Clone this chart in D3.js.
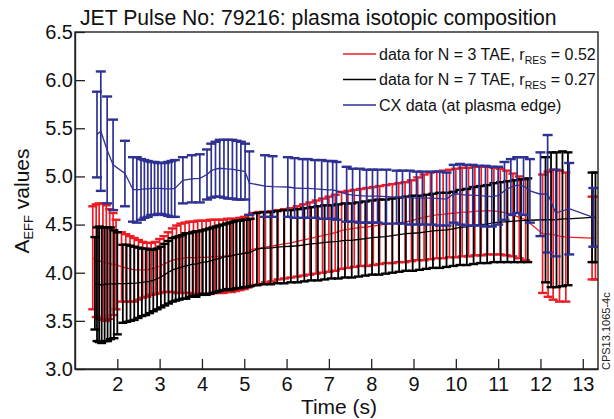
<!DOCTYPE html>
<html><head><meta charset="utf-8">
<script src="https://cdn.jsdelivr.net/npm/d3@7"></script>
<style>
html,body{margin:0;padding:0;background:#fff;}
svg{display:block;font-family:"Liberation Sans",Arial,Helvetica,sans-serif;}
</style></head><body>
<svg id="c" width="614" height="419"></svg>
<script>
// ---------------- data ----------------
const titleText = "JET Pulse No: 79216: plasma isotopic composition";
const xTicks = [2,3,4,5,6,7,8,9,10,11,12,13];
const yTicks = [3.0,3.5,4.0,4.5,5.0,5.5,6.0,6.5];

// N = 3 TAE (red): time, value, half error
const redT = [1.42,1.50,1.57,1.66,1.74,1.82,1.90,1.97,
  2.10,2.20,2.30,2.40,2.50,2.60,2.70,2.80,2.90,3.00,3.10,3.20,3.30,
  3.40,3.50,3.60,3.70,3.80,3.90,4.00,4.10,4.20,4.30,4.40,4.50,4.60,4.70,4.80,4.90,5.00,5.10,5.20,
  5.35,5.50,5.65,5.80,5.95,6.10,6.25,6.40,6.55,6.70,6.85,7.00,7.15,7.30,7.45,7.60,7.75,7.90,8.05,8.20,
  8.35,8.50,8.65,8.80,8.95,9.10,9.25,9.40,9.55,9.70,9.85,10.00,10.15,10.30,10.45,10.60,10.75,10.90,11.05,11.20,
  11.35,11.50,11.65,
  12.05,12.18,12.30,12.45,12.60,
  13.22,13.30];
const redV = [4.155,4.125,4.12,4.115,4.10,4.09,4.09,4.085,
  4.06,4.05,4.04,4.03,4.03,4.03,4.03,4.04,4.05,4.07,4.09,4.11,4.13,
  4.14,4.15,4.155,4.16,4.155,4.16,4.16,4.16,4.165,4.17,4.17,4.17,4.18,4.18,4.185,4.195,4.205,4.225,4.245,
  4.255,4.265,4.275,4.29,4.30,4.31,4.325,4.34,4.355,4.37,4.385,4.40,4.415,4.44,4.45,4.46,4.47,4.475,4.485,4.495,
  4.505,4.51,4.52,4.525,4.54,4.56,4.575,4.59,4.60,4.605,4.615,4.62,4.63,4.63,4.64,4.64,4.645,4.64,4.635,4.62,
  4.60,4.575,4.55,
  4.405,4.40,4.395,4.38,4.37,
  4.36,4.36];
const redE = [0.535,0.585,0.60,0.605,0.60,0.57,0.53,0.465,
  0.36,0.35,0.34,0.33,0.31,0.29,0.28,0.27,0.27,0.28,0.29,0.31,0.33,
  0.35,0.36,0.365,0.37,0.375,0.38,0.38,0.38,0.385,0.38,0.38,0.38,0.38,0.38,0.375,0.375,0.375,0.375,0.375,
  0.375,0.365,0.365,0.36,0.36,0.36,0.365,0.37,0.375,0.38,0.385,0.39,0.395,0.40,0.40,0.40,0.40,0.405,0.405,0.405,
  0.405,0.41,0.41,0.415,0.42,0.43,0.445,0.45,0.45,0.455,0.455,0.46,0.46,0.46,0.46,0.46,0.455,0.45,0.445,0.44,
  0.43,0.425,0.42,
  0.615,0.65,0.675,0.68,0.67,
  0.43,0.43];

// N = 7 TAE (black)
const blackT = [1.47,1.52,1.57,1.63,1.70,1.77,1.84,1.92,2.00,
  2.13,2.22,2.31,2.40,2.49,2.58,2.67,2.76,2.85,2.94,3.03,3.12,3.21,
  3.30,3.38,3.46,3.54,3.62,3.70,3.78,3.86,3.94,4.02,4.10,4.18,4.26,4.34,4.42,4.50,4.58,4.66,4.74,4.82,4.90,4.98,5.06,5.14,
  5.30,5.46,5.62,5.78,5.94,6.10,6.26,6.42,6.58,6.74,6.90,7.06,7.22,7.38,7.54,7.70,7.86,8.02,8.18,8.34,
  8.50,8.66,8.82,8.98,9.14,9.30,9.46,9.62,9.78,9.94,10.10,10.26,10.42,10.58,10.74,10.90,11.06,11.22,11.38,11.54,11.70,
  12.12,12.25,12.38,12.52,12.65,
  13.22,13.30];
const blackV = [3.89,3.88,3.88,3.87,3.88,3.88,3.89,3.88,3.89,
  3.885,3.89,3.89,3.89,3.895,3.90,3.905,3.91,3.92,3.935,3.955,3.98,4.005,
  4.03,4.04,4.05,4.06,4.07,4.08,4.09,4.09,4.10,4.11,4.11,4.12,4.13,4.14,4.15,4.16,4.17,4.17,4.18,4.19,4.19,4.20,4.20,4.21,
  4.245,4.255,4.255,4.265,4.27,4.275,4.28,4.29,4.30,4.305,4.315,4.32,4.325,4.335,4.335,4.345,4.355,4.365,4.37,4.375,
  4.385,4.395,4.405,4.41,4.415,4.425,4.435,4.44,4.445,4.455,4.47,4.475,4.49,4.50,4.505,4.52,4.525,4.53,4.535,4.54,4.545,
  4.55,4.55,4.55,4.56,4.56,
  4.575,4.575];
const blackE = [0.48,0.59,0.60,0.60,0.59,0.59,0.58,0.56,0.53,
  0.405,0.40,0.39,0.38,0.365,0.35,0.345,0.33,0.32,0.315,0.315,0.32,0.325,
  0.33,0.33,0.33,0.33,0.34,0.33,0.33,0.34,0.33,0.33,0.34,0.34,0.34,0.34,0.34,0.34,0.34,0.35,0.35,0.35,0.35,0.35,0.35,0.35,
  0.375,0.375,0.375,0.375,0.38,0.375,0.38,0.38,0.38,0.385,0.385,0.38,0.385,0.385,0.385,0.385,0.385,0.385,0.39,0.385,
  0.385,0.385,0.385,0.39,0.385,0.385,0.385,0.39,0.385,0.385,0.39,0.395,0.40,0.40,0.405,0.41,0.415,0.42,0.425,0.43,0.435,
  0.65,0.70,0.70,0.70,0.69,
  0.465,0.465];

// CX data (blue)
const blueT = [1.52,1.61,1.76,1.90,2.18,2.37,2.46,2.56,2.64,2.72,2.80,2.88,2.96,3.04,3.12,3.20,3.28,3.36,
  3.55,3.76,3.95,4.12,4.22,4.32,4.42,4.52,4.62,4.72,4.82,4.92,5.02,5.12,
  5.49,5.67,6.03,6.19,6.38,6.50,6.67,6.83,6.97,7.09,7.18,7.42,7.56,7.73,7.89,8.03,8.15,8.36,8.60,8.74,8.91,9.07,9.21,9.43,9.62,9.78,
  9.95,10.10,10.25,10.40,10.55,10.70,10.85,11.00,11.15,11.30,11.45,11.60,11.75,
  12.00,12.17,12.36,12.68,13.25];
const blueV = [5.435,5.47,5.275,5.12,5.03,4.865,4.86,4.865,4.87,4.87,4.875,4.875,4.875,4.875,4.87,4.87,4.87,4.875,
  4.96,4.975,4.98,5.02,5.06,5.075,5.085,5.08,5.075,5.075,5.065,5.06,5.05,4.93,
  4.90,4.895,4.89,4.88,4.875,4.875,4.87,4.865,4.86,4.86,4.85,4.815,4.805,4.80,4.795,4.795,4.795,4.79,4.785,4.785,4.78,4.775,4.775,4.775,4.77,4.765,
  4.82,4.815,4.805,4.805,4.80,4.795,4.79,4.80,4.85,4.89,4.91,4.90,4.85,
  4.815,4.82,4.62,4.665,4.575];
const blueE = [0.445,0.62,0.555,0.47,0.34,0.335,0.34,0.315,0.30,0.29,0.275,0.275,0.265,0.265,0.27,0.28,0.29,0.295,
  0.24,0.245,0.25,0.26,0.28,0.285,0.295,0.30,0.305,0.305,0.305,0.30,0.29,0.33,
  0.32,0.315,0.31,0.31,0.305,0.305,0.30,0.305,0.30,0.30,0.30,0.285,0.275,0.28,0.275,0.275,0.275,0.28,0.275,0.275,0.28,0.275,0.275,0.275,0.28,0.275,
  0.30,0.315,0.315,0.315,0.31,0.315,0.31,0.30,0.30,0.29,0.29,0.30,0.33,
  0.435,0.61,0.45,0.475,0.305];

const legendMain = ["data for N = 3 TAE, r", "data for N = 7 TAE, r", "CX data (at plasma edge)"];
const legendSub  = ["RES", "RES", ""];
const legendTail = [" = 0.52", " = 0.27", ""];
const seriesColors = ["#ec1c24", "#000000", "#2e3192"];

// ---------------- layout ----------------
const L = 75, R = 598, T = 32, B = 369;
const svg = d3.select("#c");
const x = d3.scaleLinear().domain([1.0, 13.36]).range([L, R]);
const y = d3.scaleLinear().domain([3.0, 6.5]).range([B, T]);

svg.append("defs").append("clipPath").attr("id","clip")
  .append("rect").attr("x",L).attr("y",T).attr("width",R-L).attr("height",B-T);

const plot = svg.append("g").attr("clip-path","url(#clip)");

function series(T_, V_, E_, color, capHalf, barW, capW) {
  const data = T_.map((t,i)=>({t, v:V_[i], e:E_[i]}));
  const g = plot.append("g");
  g.append("path").datum(data)
    .attr("fill","none").attr("stroke",color).attr("stroke-width",1.3)
    .attr("d", d3.line().x(d=>x(d.t)).y(d=>y(d.v)));
  g.selectAll("line.bar").data(data).join("line").attr("class","bar")
    .attr("x1",d=>x(d.t)).attr("x2",d=>x(d.t))
    .attr("y1",d=>y(d.v-d.e)).attr("y2",d=>y(d.v+d.e))
    .attr("stroke",color).attr("stroke-width",barW);
  ["top","bot"].forEach(k=>{
    g.selectAll("line.cap"+k).data(data).join("line").attr("class","cap"+k)
      .attr("x1",d=>x(d.t)-capHalf).attr("x2",d=>x(d.t)+capHalf)
      .attr("y1",d=>y(k==="top"?d.v+d.e:d.v-d.e)).attr("y2",d=>y(k==="top"?d.v+d.e:d.v-d.e))
      .attr("stroke",color).attr("stroke-width",capW);
  });
}
series(redT, redV, redE, seriesColors[0], 4.5, 1.7, 2.4);
series(blackT, blackV, blackE, seriesColors[1], 4.5, 1.8, 2.4);
series(blueT, blueV, blueE, seriesColors[2], 5, 1.7, 2.4);

// frame
svg.append("rect").attr("x",L).attr("y",T).attr("width",R-L).attr("height",B-T)
  .attr("fill","none").attr("stroke","#222").attr("stroke-width",1.4);

// axes
const xAxis = svg.append("g").attr("transform",`translate(0,${B})`)
  .call(d3.axisBottom(x).tickValues(xTicks).tickFormat(d3.format("d"))
    .tickSizeInner(-10).tickSizeOuter(0).tickPadding(8));
const yAxis = svg.append("g").attr("transform",`translate(${L},0)`)
  .call(d3.axisLeft(y).tickValues(yTicks).tickFormat(d3.format(".1f"))
    .tickSizeInner(-10).tickSizeOuter(0).tickPadding(2));
[xAxis,yAxis].forEach(a=>{
  a.select(".domain").attr("stroke","#222").attr("stroke-width",1.4);
  a.selectAll(".tick line").attr("stroke","#222").attr("stroke-width",1.3);
  a.selectAll("text").attr("font-size",20).attr("fill","#111")
    .attr("font-family","'Liberation Sans',Arial,sans-serif");
});

// title
svg.append("text").attr("x",80).attr("y",25).attr("font-size",21.2).attr("fill","#111")
  .text(titleText);

// axis titles
svg.append("text").attr("x",339).attr("y",414).attr("text-anchor","middle")
  .attr("font-size",21).attr("fill","#111").text("Time (s)");
const yl = svg.append("text").attr("transform","translate(29,201) rotate(-90)")
  .attr("text-anchor","middle").attr("font-size",21).attr("fill","#111");
yl.append("tspan").text("A");
yl.append("tspan").attr("font-size",13).attr("dy",4).text("EFF");
yl.append("tspan").attr("dy",-4).text(" values");

// legend
const lg = svg.append("g");
legendMain.forEach((m,i)=>{
  const ly = 54 + i*25.5;
  lg.append("line").attr("x1",343).attr("x2",376).attr("y1",ly).attr("y2",ly)
    .attr("stroke",seriesColors[i]).attr("stroke-width",1.5);
  const t = lg.append("text").attr("x",379).attr("y",ly+5.5).attr("font-size",16).attr("fill","#111");
  t.append("tspan").text(m);
  if (legendSub[i]) {
    t.append("tspan").attr("font-size",10.5).attr("dy",4).text(legendSub[i]);
    t.append("tspan").attr("dy",-4).text(legendTail[i]);
  }
});

// figure id
svg.append("text").attr("transform","translate(610,370) rotate(-90)")
  .attr("font-size",11).attr("fill","#222").text("CPS13.1065-4c");
</script>
</body></html>
